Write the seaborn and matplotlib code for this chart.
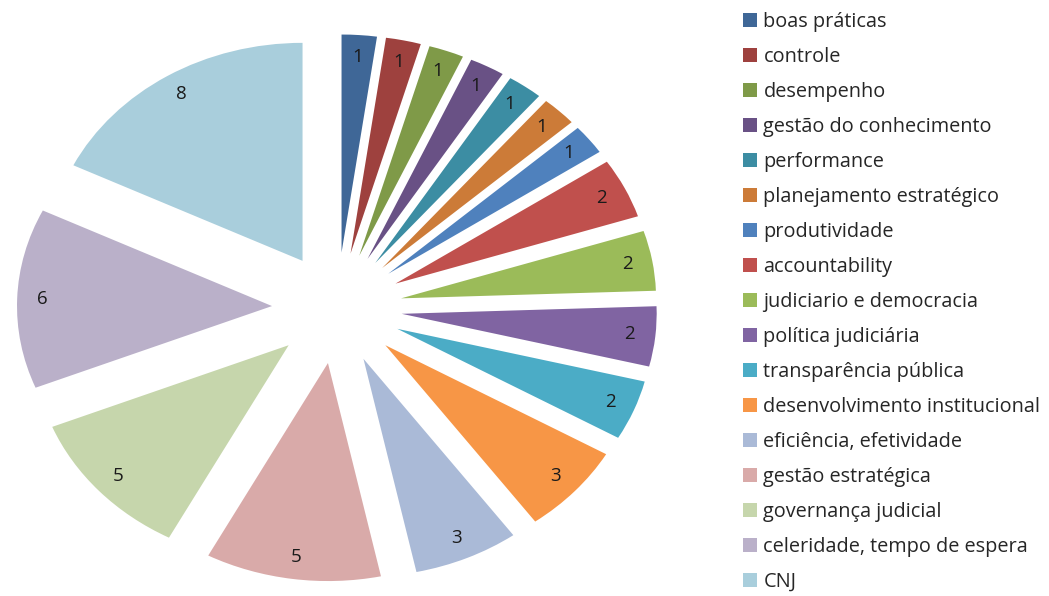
import matplotlib
matplotlib.use("Agg")
import matplotlib.pyplot as plt
import matplotlib.patches as mpatches
import seaborn as sns

# Topic counts
categories = [
    "boas práticas", "controle", "desempenho", "gestão do conhecimento",
    "performance", "planejamento estratégico", "produtividade", "accountability",
    "judiciario e democracia", "política judiciária", "transparência pública",
    "desenvolvimento institucional", "eficiência, efetividade", "gestão estratégica",
    "governança judicial", "celeridade, tempo de espera", "CNJ",
]
counts = [1, 1, 1, 1, 1, 1, 1, 2, 2, 2, 2, 3, 3, 5, 5, 6, 8]
colors = [
    "#3F6797", "#9E413E", "#7F9A48", "#695185", "#3C8DA3", "#CC7B38",
    "#4F81BD", "#C0504D", "#9BBB59", "#8064A2", "#4BACC6", "#F79646",
    "#AABAD7", "#D9AAA9", "#C6D6AC", "#BAB0C9", "#A9CEDC",
]

sns.set_theme(style="white")
plt.rcParams["font.family"] = ["Open Sans", "DejaVu Sans"]

W, H = 1049, 596
fig = plt.figure(figsize=(W / 100, H / 100), dpi=100)

# Pie axes: centre at (337, 308) px, radius 255 px wide and 218 px tall
cx, cy, rx, ry = 337, 308, 255, 218
lim = 1.3
ax = fig.add_axes([(cx - lim * rx) / W, (H - cy - lim * ry) / H,
                   2 * lim * rx / W, 2 * lim * ry / H])

total = sum(counts)
wedges, _, autotexts = ax.pie(
    counts,
    colors=colors,
    explode=[0.255] * len(counts),
    startangle=90,
    counterclock=False,
    autopct=lambda p: f"{p * total / 100:.0f}",
    pctdistance=0.9,
    wedgeprops=dict(linewidth=0),
    textprops=dict(fontsize=13.5, color="#1a1a1a"),
)
ax.set_aspect("auto")
ax.set_xlim(-lim, lim)
ax.set_ylim(-lim, lim)
ax.axis("off")

handles = [mpatches.Patch(facecolor=c, edgecolor="none") for c in colors]
fig.legend(
    handles, categories,
    loc="upper left",
    bbox_to_anchor=(743 / W, 1 - 12 / H),
    frameon=False,
    fontsize=14.3,
    handlelength=0.7,
    handleheight=0.65,
    handletextpad=0.33,
    labelspacing=0.755,
    borderaxespad=0,
    borderpad=0,
)

fig.savefig("out.png", dpi=100, facecolor="white")
